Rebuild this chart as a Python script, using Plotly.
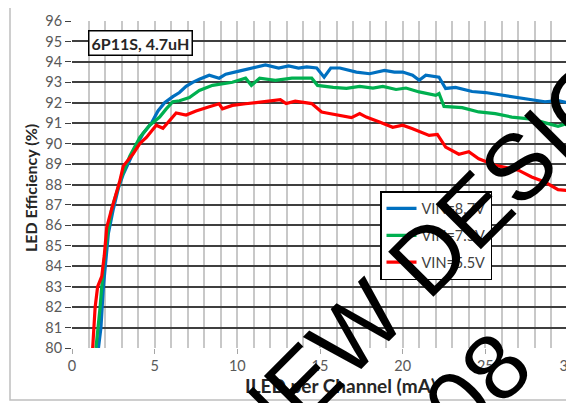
import plotly.graph_objects as go

# ---- data ----
blue_x = [1.6, 1.75, 1.9, 2.05, 2.2, 2.5, 2.8, 3.1, 3.5, 3.9, 4.3, 4.8, 5.2, 5.6, 6.1, 6.5, 6.9, 7.3, 7.7,
          8.3, 8.9, 9.3, 10.1, 10.9, 11.7, 12.5, 13.1, 13.7, 14.2, 14.8, 15.25, 15.65, 16.2, 17.2, 18.0,
          18.9, 19.5, 20.0, 20.6, 21.0, 21.4, 22.2, 22.6, 23.2, 24.2, 25.0, 26.2, 27.4, 28.6, 29.4, 30]
blue_y = [80, 81, 83, 84.5, 85.6, 86.8, 87.8, 88.5, 89.2, 89.9, 90.5, 91.0, 91.6, 92.0, 92.3, 92.5, 92.8, 93.0, 93.15,
          93.35, 93.2, 93.4, 93.55, 93.7, 93.85, 93.7, 93.8, 93.7, 93.75, 93.7, 93.25, 93.7, 93.7, 93.5, 93.42,
          93.58, 93.5, 93.5, 93.35, 93.1, 93.35, 93.25, 92.7, 92.75, 92.55, 92.5, 92.35, 92.2, 92.05, 92.1, 92.0]

green_x = [1.45, 1.7, 1.9, 2.15, 2.4, 2.7, 3.0, 3.5, 4.1, 4.7, 5.3, 5.7, 6.1, 6.5, 7.1, 7.7, 8.5, 9.7, 10.5,
           10.85, 11.35, 12.3, 13.3, 14.5, 14.85, 15.8, 16.6, 17.4, 18.2, 18.8, 19.6, 20.2, 21.0, 22.0, 22.2,
           22.5, 23.6, 24.6, 25.6, 26.6, 27.8, 28.8, 29.4, 29.8, 30]
green_y = [80, 82, 84, 85.6, 86.8, 87.6, 88.4, 89.4, 90.3, 90.9, 91.3, 91.7, 92.05, 92.1, 92.25, 92.6, 92.85, 93.0, 93.2,
           92.85, 93.2, 93.1, 93.2, 93.2, 92.85, 92.75, 92.7, 92.8, 92.72, 92.8, 92.65, 92.72, 92.53, 92.36, 92.45,
           91.82, 91.76, 91.55, 91.47, 91.3, 91.2, 90.98, 90.85, 90.95, 90.9]

red_x = [1.25, 1.4, 1.55, 1.8, 1.95, 2.1, 2.4, 2.7, 2.9, 3.1, 3.7, 4.1, 4.5, 4.9, 5.1, 5.5, 5.9, 6.3, 6.9, 7.5,
         8.3, 8.9, 9.1, 9.7, 10.5, 11.7, 12.6, 12.95, 13.5, 14.5, 15.1, 15.4, 16.2, 16.9, 17.4, 17.8, 18.6,
         19.4, 20.0, 20.6, 21.6, 22.1, 22.6, 23.4, 24.0, 24.6, 25.6, 26.4, 27.0, 27.8, 28.6, 29.4, 30]
red_y = [80, 82, 83, 83.5, 84.5, 85.9, 86.8, 87.6, 88.2, 88.9, 89.5, 90.0, 90.3, 90.7, 90.9, 90.75, 91.15, 91.5, 91.4, 91.6,
         91.8, 91.95, 91.7, 91.87, 91.95, 92.05, 92.15, 91.96, 92.08, 91.96, 91.55, 91.5, 91.38, 91.27, 91.47, 91.3, 91.06,
         90.8, 90.9, 90.73, 90.4, 90.45, 89.83, 89.48, 89.6, 89.26, 88.94, 88.78, 88.7, 88.37, 88.12, 87.75, 87.7]

series_names = ["VIN=8.7V", "VIN=7.5V", "VIN=5.5V"]
series_colors = ["#0070C0", "#00B050", "#FF0000"]

x_tick_vals = [0, 5, 10, 15, 20, 25, 30]
y_tick_vals = list(range(80, 97))

box_label = "6P11S, 4.7uH"
x_title = "ILED per Channel (mA)"
y_title = "LED Efficiency (%)"
watermark1 = "NEW DESIGNS"
watermark2 = "08"

# ---- figure ----
# the page body has an 8px margin, so figure coords = screen coords - 8
OFF = 8
W, H = 574, 403
PL, PR, PT, PB = 72, 568, 21, 348          # plot area in screen pixels
L, R, T, B = PL - OFF, W - (PR - OFF), PT - OFF, H - (PB - OFF)
pw, ph = PR - PL, PB - PT


def px(sx):
    return (sx - PL) / pw


def py(sy):
    return (PB - sy) / ph


fig = go.Figure()
for xs, ys, name, col, grp in zip([blue_x, green_x, red_x], [blue_y, green_y, red_y],
                                  series_names, series_colors, ["a", "b", "c"]):
    fig.add_trace(go.Scatter(x=xs, y=ys, mode="lines", name=name, legendgroup=grp,
                             line=dict(color=col, width=3.2)))

font_main = "Lato, 'Open Sans', sans-serif"

fig.update_layout(
    width=W, height=H,
    margin=dict(l=L, r=R, t=T, b=B, autoexpand=False),
    paper_bgcolor="white", plot_bgcolor="white",
    font=dict(family=font_main, size=14, color="#595959"),
    showlegend=True,
    legend=dict(x=px(380), y=py(191), xanchor="left", yanchor="top",
                bgcolor="white", bordercolor="#000000", borderwidth=1.5,
                font=dict(family=font_main, size=14.5, color="#404040"),
                traceorder="grouped", tracegroupgap=5, itemwidth=30),
    xaxis=dict(range=[0, 30], tickvals=x_tick_vals, ticks="outside", ticklen=5, tickcolor="#A6A6A6",
               showgrid=True, gridcolor="#C8C8C8", gridwidth=2,
               minor=dict(dtick=1, showgrid=True, gridcolor="#C8C8C8", gridwidth=2),
               zeroline=False, showline=False, automargin=False,
               tickfont=dict(size=14.5, color="#595959")),
    yaxis=dict(range=[80, 96], tickvals=y_tick_vals, ticks="outside", ticklen=6, tickcolor="#404040",
               showgrid=True, gridcolor="#3F3F3F", gridwidth=1.6,
               zeroline=False, showline=False, automargin=False,
               tickfont=dict(size=14.5, color="#595959")),
)

# outer chart border
fig.add_shape(type="rect", xref="paper", yref="paper", x0=px(10), x1=px(600), y0=py(400), y1=py(4),
              line=dict(color="#BFBFBF", width=1.5), layer="below")

# axis titles
fig.add_annotation(x=px(340), y=py(385), xref="paper", yref="paper", text="<b>" + x_title + "</b>",
                   xanchor="center", yanchor="middle", showarrow=False,
                   font=dict(family=font_main, size=19, color="#262626"))
fig.add_annotation(x=px(30), y=py(188), xref="paper", yref="paper", text="<b>" + y_title + "</b>",
                   xanchor="center", yanchor="middle", showarrow=False, textangle=-90,
                   font=dict(family=font_main, size=16, color="#262626"))

# label box
fig.add_annotation(x=px(140), y=py(42.5), xref="paper", yref="paper", text="<b>" + box_label + "</b>",
                   xanchor="center", yanchor="middle",
                   showarrow=False, font=dict(family=font_main, size=16, color="#262626"),
                   bgcolor="white", bordercolor="#000000", borderwidth=1.5, borderpad=2)

# watermark
fig.add_annotation(x=px(467), y=py(218), xref="paper", yref="paper", text=watermark1,
                   xanchor="center", yanchor="middle",
                   showarrow=False, textangle=-45,
                   font=dict(family="Liberation Sans, Arial, sans-serif", size=93, color="black"))
fig.add_annotation(x=px(477), y=py(386), xref="paper", yref="paper", text=watermark2,
                   xanchor="center", yanchor="middle",
                   showarrow=False, textangle=-45,
                   font=dict(family="Liberation Sans, Arial, sans-serif", size=93, color="black"))

fig.write_html("out.html")
